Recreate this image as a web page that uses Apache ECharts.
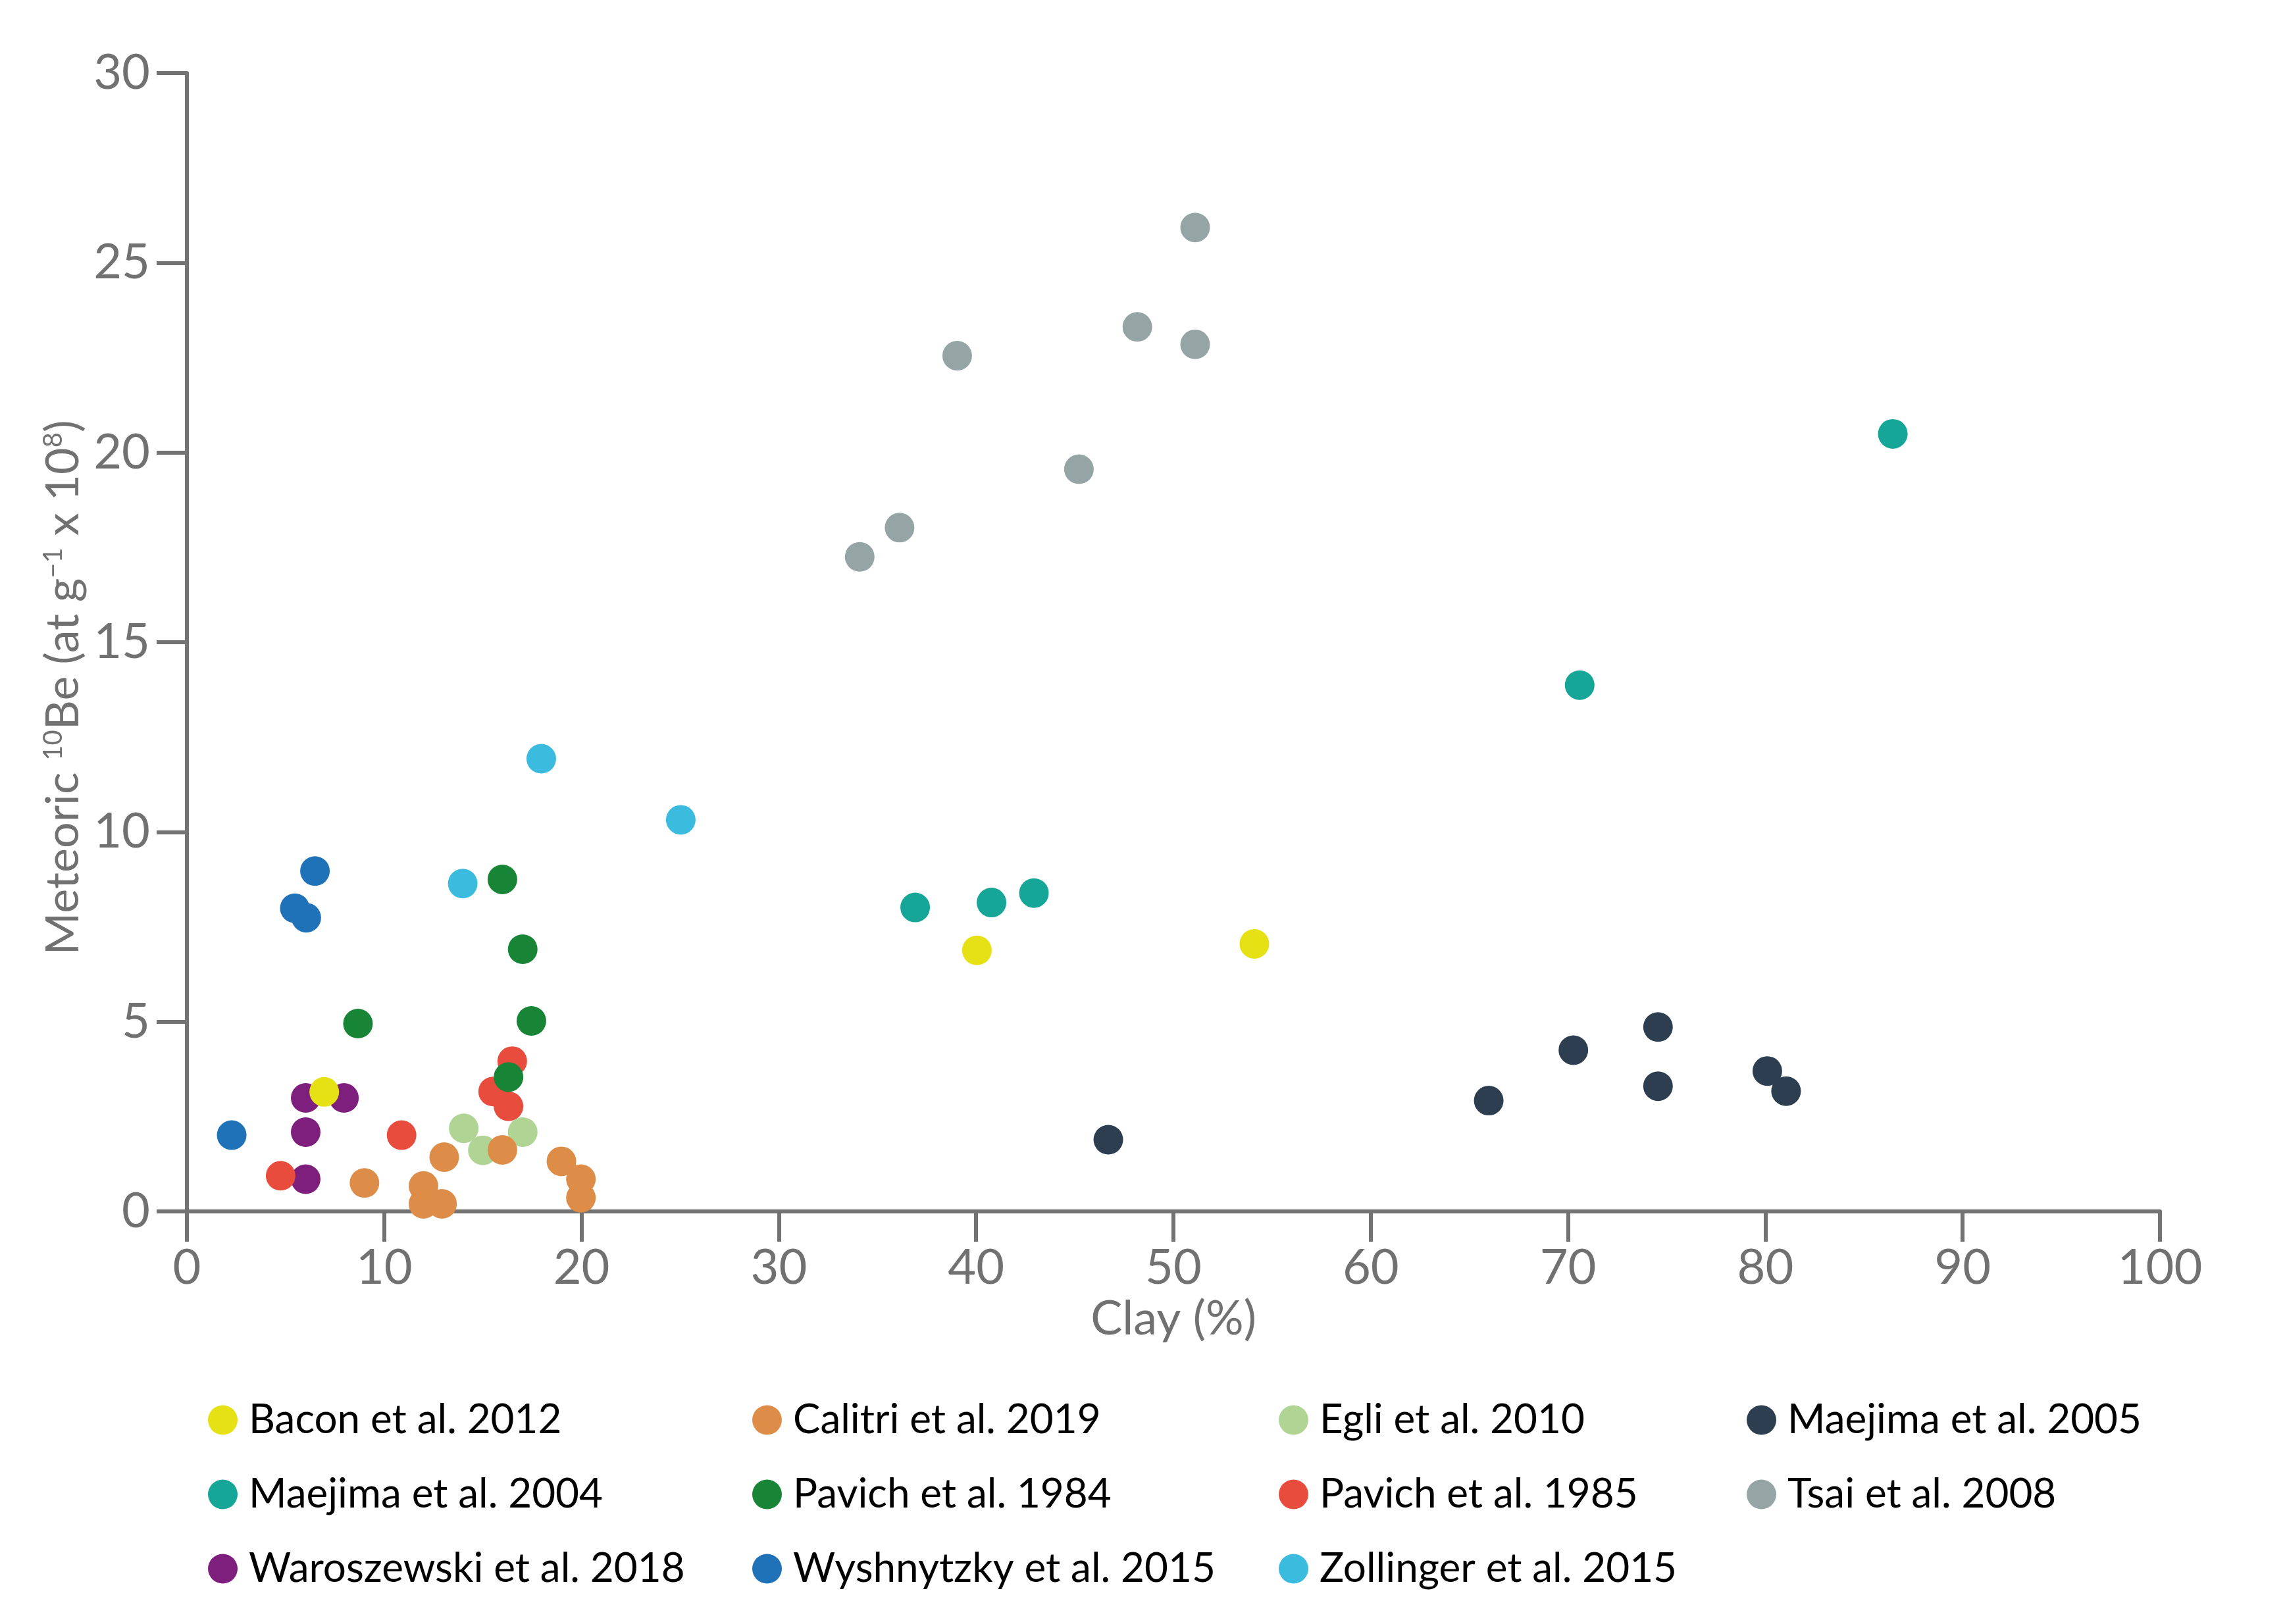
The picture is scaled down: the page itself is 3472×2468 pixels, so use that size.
<!DOCTYPE html>
<html>
<head>
<meta charset="utf-8">
<title>Meteoric 10Be vs clay</title>
<script src="https://cdn.jsdelivr.net/npm/echarts@6/dist/echarts.min.js"></script>
<style>
    html, body { margin: 0; padding: 0; background: #fff; }
    #chart { width: 3472px; height: 2468px; }
</style>
</head>
<body>
<div id="chart"></div>
<script>
// [clay %, meteoric 10Be (at g-1 x 10^8)]
var bacon2012 = [[6.96, 3.15], [40.04, 6.88], [54.1, 7.05]];
var calitri2019 = [[9.0, 0.75], [11.99, 0.67], [11.99, 0.2], [12.93, 0.2], [13.04, 1.43], [15.99, 1.62], [18.98, 1.32], [19.97, 0.85], [19.97, 0.36]];
var egli2010 = [[14.03, 2.19], [15.0, 1.61], [17.02, 2.09]];
var maejima2005 = [[46.7, 1.89], [65.98, 2.92], [70.27, 4.25], [74.56, 4.86], [74.56, 3.3], [80.1, 3.7], [81.05, 3.17]];
var maejima2004 = [[36.91, 8.01], [40.78, 8.14], [42.93, 8.39], [70.59, 13.87], [86.46, 20.49]];
var pavich1984 = [[8.67, 4.95], [15.99, 8.75], [17.02, 6.91], [17.46, 5.02], [16.3, 3.54]];
var pavich1985 = [[4.75, 0.94], [10.88, 2.01], [16.49, 3.96], [15.52, 3.16], [16.3, 2.77]];
var tsai2008 = [[34.1, 17.25], [36.12, 18.02], [39.04, 22.55], [45.21, 19.56], [48.17, 23.31], [51.1, 22.85], [51.1, 25.93]];
var waroszewski2018 = [[6.02, 2.99], [7.96, 2.99], [6.02, 2.09], [6.02, 0.85]];
var wyshnytzky2015 = [[2.27, 2.01], [5.47, 7.99], [6.05, 7.74], [6.49, 8.97]];
var zollinger2015 = [[13.98, 8.64], [17.96, 11.93], [25.03, 10.32]];

var xTicks = [0, 10, 20, 30, 40, 50, 60, 70, 80, 90, 100];
var yTicks = [0, 5, 10, 15, 20, 25, 30];

// legend order (as printed), one list per column
var legendCols = [
    ['Bacon et al. 2012', 'Maejima et al. 2004', 'Waroszewski et al. 2018'],
    ['Calitri et al. 2019', 'Pavich et al. 1984', 'Wyshnytzky et al. 2015'],
    ['Egli et al. 2010', 'Pavich et al. 1985', 'Zollinger et al. 2015'],
    ['Maejima et al. 2005', 'Tsai et al. 2008']
];
var legendLeft = [316, 1143, 1943, 2654];

var studies = [
    { name: 'Bacon et al. 2012', data: bacon2012, color: '#e6e114' },
    { name: 'Calitri et al. 2019', data: calitri2019, color: '#dd8d47' },
    { name: 'Egli et al. 2010', data: egli2010, color: '#b0d494' },
    { name: 'Maejima et al. 2005', data: maejima2005, color: '#2c3e50' },
    { name: 'Maejima et al. 2004', data: maejima2004, color: '#16a697' },
    { name: 'Pavich et al. 1984', data: pavich1984, color: '#178535' },
    { name: 'Pavich et al. 1985', data: pavich1985, color: '#e74c3c' },
    { name: 'Tsai et al. 2008', data: tsai2008, color: '#95a5a6' },
    { name: 'Waroszewski et al. 2018', data: waroszewski2018, color: '#7e1f7e' },
    { name: 'Wyshnytzky et al. 2015', data: wyshnytzky2015, color: '#1f72b8' },
    { name: 'Zollinger et al. 2015', data: zollinger2015, color: '#3bbbde' }
];

var axisGray = '#737373';
var textGray = '#717171';
var font = 'Lato';

var myChart = echarts.init(document.getElementById('chart'));

// first studies are painted last (on top)
var series = studies.slice().reverse().map(function (s) {
    return {
        name: s.name,
        type: 'scatter',
        data: s.data,
        symbol: 'circle',
        symbolSize: 45,
        itemStyle: { color: s.color, opacity: 1 },
        emphasis: { disabled: true }
    };
});

var legends = legendCols.map(function (col, i) {
    return {
        data: col,
        orient: 'vertical',
        left: legendLeft[i],
        top: 2127,
        padding: 0,
        icon: 'circle',
        itemWidth: 69,
        itemHeight: 45,
        itemGap: 51,
        selectedMode: false,
        textStyle: { fontFamily: font, fontSize: 62, lineHeight: 62, color: '#000' }
    };
});

var option = {
    animation: false,
    backgroundColor: '#fff',
    grid: { left: 284, right: 190, top: 111, bottom: 627 },
    legend: legends,
    xAxis: {
        type: 'value',
        min: xTicks[0],
        max: xTicks[xTicks.length - 1],
        interval: 10,
        name: 'Clay (%)',
        nameLocation: 'middle',
        nameGap: 123,
        nameTextStyle: { fontFamily: font, fontSize: 72, color: textGray },
        axisLine: { show: true, lineStyle: { color: axisGray, width: 6 } },
        axisTick: { show: true, length: 46, lineStyle: { color: axisGray, width: 6 } },
        axisLabel: { fontFamily: font, fontSize: 74, color: textGray, margin: 49 },
        splitLine: { show: false }
    },
    yAxis: {
        type: 'value',
        min: yTicks[0],
        max: yTicks[yTicks.length - 1],
        interval: 5,
        axisLine: { show: true, lineStyle: { color: axisGray, width: 6 } },
        axisTick: { show: true, length: 46, lineStyle: { color: axisGray, width: 6 } },
        axisLabel: { fontFamily: font, fontSize: 74, color: textGray, margin: 56 },
        splitLine: { show: false }
    },
    graphic: [{
        type: 'text',
        x: 96,
        y: 1045,
        rotation: Math.PI / 2,
        style: {
            text: 'Meteoric {sup|10}Be (at g{sup|\u22121} x 10{sup|8})',
            fontFamily: font,
            fontSize: 70,
            fill: textGray,
            align: 'center',
            verticalAlign: 'middle',
            rich: {
                sup: { fontFamily: font, fontSize: 40, fill: textGray, verticalAlign: 'top' }
            }
        }
    }],
    series: series
};

myChart.setOption(option);
</script>
</body>
</html>
